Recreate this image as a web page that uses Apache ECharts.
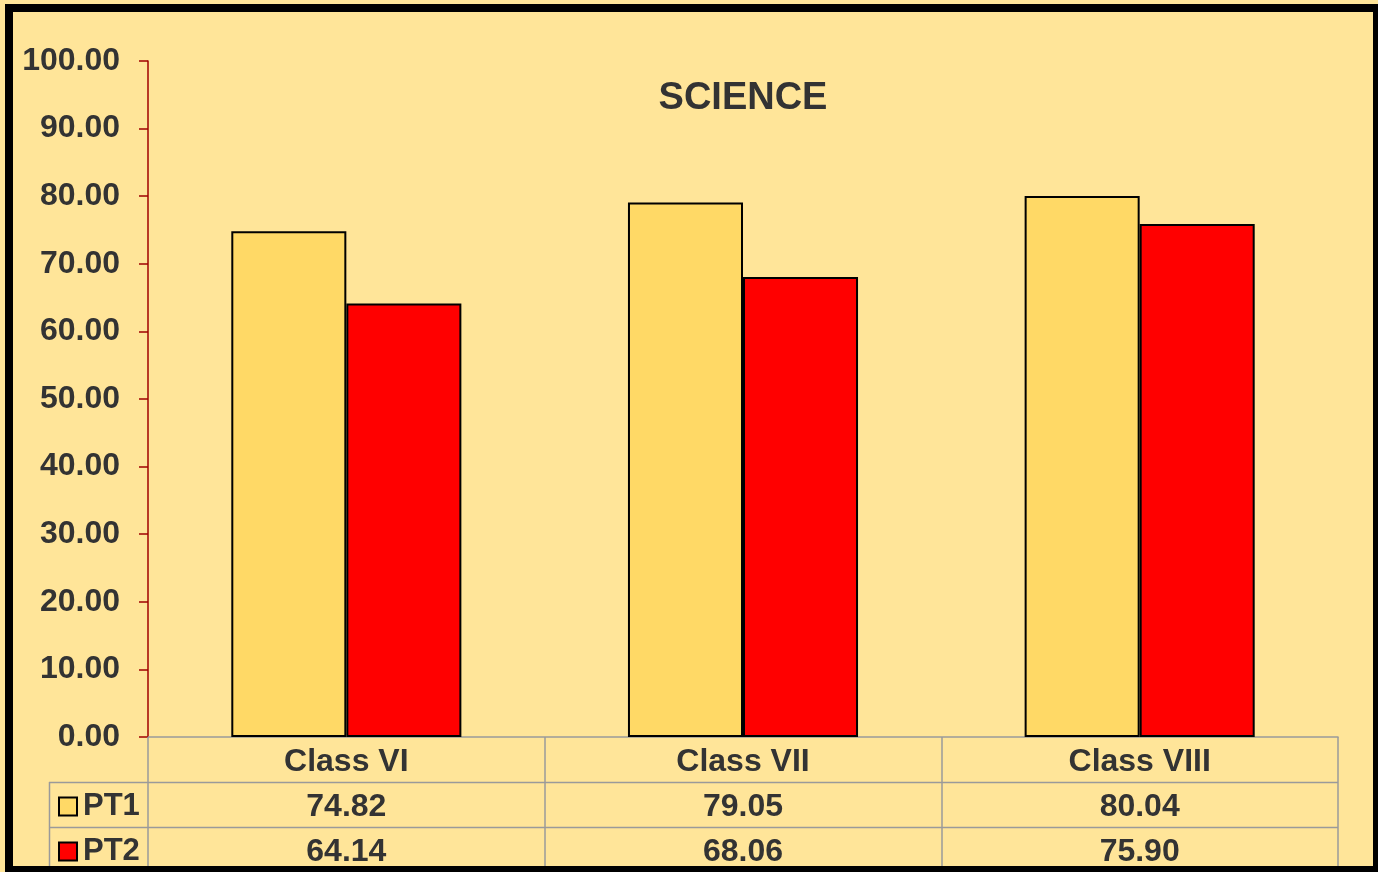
<!DOCTYPE html>
<html>
<head>
<meta charset="utf-8">
<script src="https://cdn.jsdelivr.net/npm/echarts@6/dist/echarts.min.js"></script>
<style>
html,body{margin:0;padding:0;background:#FFE599;}
#chart{width:1378px;height:872px;}
</style>
</head>
<body>
<div id="chart"></div>
<script>
const categories = ['Class VI', 'Class VII', 'Class VIII'];
const seriesNames = ['PT1', 'PT2'];
const pt1 = [74.82, 79.05, 80.04];
const pt2 = [64.14, 68.06, 75.90];
const yTicks = [0, 10, 20, 30, 40, 50, 60, 70, 80, 90, 100];

const FONT = '"Liberation Sans", Arial, sans-serif';
const TXT = '#333333';
const GRID_LINE = '#9A9A9A';

const chart = echarts.init(document.getElementById('chart'));
const option = {
  backgroundColor: '#FFE599',
  animation: false,
  title: {
    text: 'SCIENCE',
    left: 738,
    top: 75,
    textAlign: 'center',
    textStyle: { fontFamily: FONT, fontSize: 38, fontWeight: 'bold', color: TXT }
  },
  legend: {
    orient: 'vertical',
    left: 58,
    top: 791,
    padding: 0,
    itemWidth: 18,
    itemHeight: 18,
    itemGap: 14,
    icon: 'rect',
    data: seriesNames,
    textStyle: { fontFamily: FONT, fontSize: 31, fontWeight: 'bold', color: TXT, lineHeight: 31, padding: [0, 0, 0, 1] }
  },
  grid: { left: 148, right: 40, top: 61, bottom: 135, containLabel: false },
  xAxis: {
    type: 'category',
    data: categories,
    boundaryGap: true,
    axisLine: { show: true, lineStyle: { color: GRID_LINE, width: 1.5 } },
    axisTick: { show: true, alignWithLabel: false, length: 136, lineStyle: { color: GRID_LINE, width: 1.5 } },
    axisLabel: {
      margin: 3,
      interval: 0,
      formatter: function (value, idx) {
        return '{c|' + value + '}\n{v|' + pt1[idx].toFixed(2) + '}\n{v|' + pt2[idx].toFixed(2) + '}';
      },
      rich: {
        c: { fontFamily: FONT, fontSize: 32, fontWeight: 'bold', color: TXT, lineHeight: 45 },
        v: { fontFamily: FONT, fontSize: 32, fontWeight: 'bold', color: TXT, lineHeight: 45 }
      }
    },
    splitLine: { show: false }
  },
  yAxis: {
    type: 'value',
    min: yTicks[0],
    max: yTicks[yTicks.length - 1],
    interval: 10,
    axisLine: { show: true, lineStyle: { color: '#A00000', width: 1.5 } },
    axisTick: { show: true, length: 9, lineStyle: { color: '#A00000', width: 1.5 } },
    axisLabel: {
      margin: 28,
      fontFamily: FONT, fontSize: 32, fontWeight: 'bold', color: TXT,
      formatter: function (v) { return v.toFixed(2); }
    },
    splitLine: { show: false }
  },
  series: [
    {
      name: seriesNames[0], type: 'bar', data: pt1,
      barGap: '0%', barCategoryGap: '42%',
      itemStyle: { color: '#FFD966', borderColor: '#000', borderWidth: 2 }
    },
    {
      name: seriesNames[1], type: 'bar', data: pt2,
      barGap: '0%', barCategoryGap: '42%',
      itemStyle: { color: '#FF0000', borderColor: '#000', borderWidth: 2 }
    }
  ],
  graphic: [
    { type: 'line', z: 50, shape: { x1: 49, y1: 782.5, x2: 1338, y2: 782.5 }, style: { stroke: GRID_LINE, lineWidth: 1.5 } },
    { type: 'line', z: 50, shape: { x1: 49, y1: 827.5, x2: 1338, y2: 827.5 }, style: { stroke: GRID_LINE, lineWidth: 1.5 } },
    { type: 'line', z: 50, shape: { x1: 49.5, y1: 782, x2: 49.5, y2: 872 }, style: { stroke: GRID_LINE, lineWidth: 1.5 } },
    { type: 'rect', z: 100, shape: { x: 9, y: 8, width: 1368, height: 862 }, style: { fill: 'none', stroke: '#000', lineWidth: 8 } }
  ]
};
chart.setOption(option);
</script>
</body>
</html>
